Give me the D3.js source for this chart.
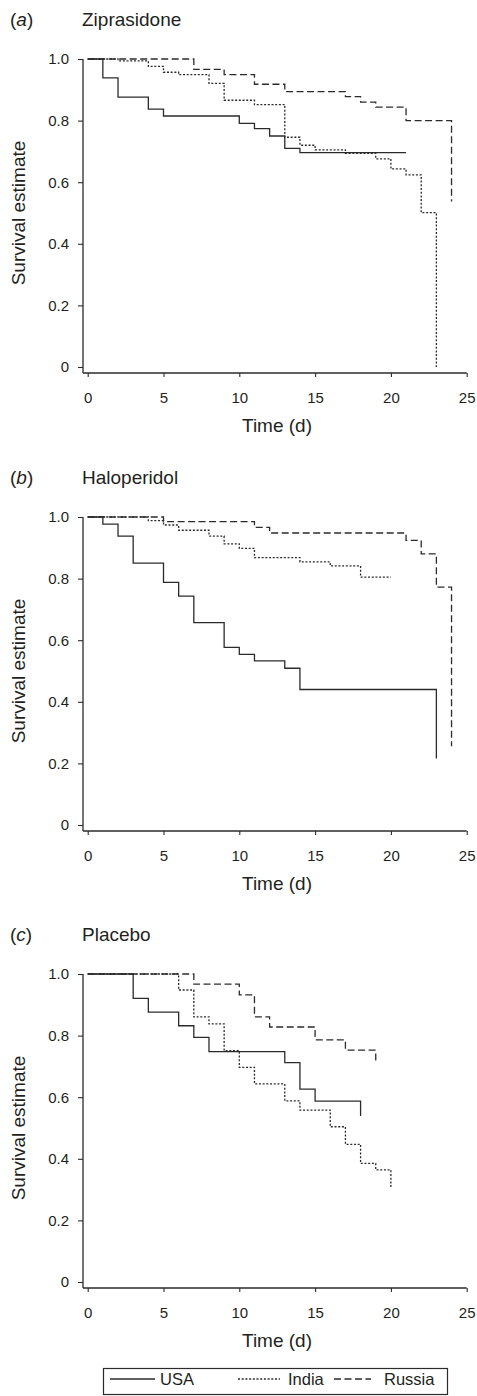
<!DOCTYPE html>
<html>
<head>
<meta charset="utf-8">
<script src="https://cdn.jsdelivr.net/npm/d3@7"></script>
<style>
  html, body { margin: 0; padding: 0; background: #fff; }
  svg { display: block; }
  text { font-family: "Liberation Sans", Arial, sans-serif; fill: #231f20; }
</style>
</head>
<body>
<svg id="chart" width="477" height="1396"></svg>
<script>
// ---- Data ----
const panelLetters = ["a", "b", "c"];
const panelTitles = ["Ziprasidone", "Haloperidol", "Placebo"];
const countries = ["USA", "India", "Russia"];
const xTicks = [0, 5, 10, 15, 20, 25];
const yTicks = [0, 0.2, 0.4, 0.6, 0.8, 1.0];
const yTickLabels = ["0", "0.2", "0.4", "0.6", "0.8", "1.0"];

// Panel (a) Ziprasidone
const usaA_t = [0, 1, 2, 4, 5, 10, 11, 12, 13, 14, 21];
const usaA_s = [1, 0.939, 0.876, 0.837, 0.815, 0.791, 0.774, 0.750, 0.710, 0.696, 0.696];
const indiaA_t = [0, 2, 4, 5, 6, 8, 9, 11, 13, 14, 15, 17, 19, 20, 21, 22, 23];
const indiaA_s = [1, 0.994, 0.976, 0.957, 0.949, 0.921, 0.866, 0.852, 0.746, 0.720, 0.705, 0.694, 0.676, 0.643, 0.624, 0.501, 0];
const russiaA_t = [0, 7, 9, 11, 13, 17, 18, 19, 21, 24];
const russiaA_s = [1, 0.966, 0.949, 0.918, 0.894, 0.878, 0.860, 0.844, 0.800, 0.537];

// Panel (b) Haloperidol
const usaB_t = [0, 1, 2, 3, 5, 6, 7, 9, 10, 11, 13, 14, 23];
const usaB_s = [1, 0.977, 0.938, 0.850, 0.788, 0.743, 0.657, 0.577, 0.554, 0.533, 0.509, 0.440, 0.216];
const indiaB_t = [0, 4, 5, 6, 8, 9, 10, 11, 14, 16, 18, 20];
const indiaB_s = [1, 0.988, 0.974, 0.957, 0.938, 0.913, 0.898, 0.868, 0.854, 0.841, 0.805, 0.805];
const russiaB_t = [0, 5, 11, 12, 21, 22, 23, 24];
const russiaB_s = [1, 0.985, 0.966, 0.948, 0.924, 0.880, 0.772, 0.256];

// Panel (c) Placebo
const usaC_t = [0, 3, 4, 6, 7, 8, 13, 14, 15, 18];
const usaC_s = [1, 0.921, 0.876, 0.832, 0.794, 0.748, 0.712, 0.626, 0.587, 0.539];
const indiaC_t = [0, 6, 7, 8, 9, 10, 11, 13, 14, 16, 17, 18, 19, 20];
const indiaC_s = [1, 0.948, 0.861, 0.838, 0.751, 0.697, 0.643, 0.588, 0.558, 0.504, 0.447, 0.385, 0.364, 0.307];
const russiaC_t = [0, 7, 10, 11, 12, 15, 17, 19];
const russiaC_s = [1, 0.967, 0.932, 0.861, 0.828, 0.786, 0.753, 0.708];

const panelData = [
  [[usaA_t, usaA_s], [indiaA_t, indiaA_s], [russiaA_t, russiaA_s]],
  [[usaB_t, usaB_s], [indiaB_t, indiaB_s], [russiaB_t, russiaB_s]],
  [[usaC_t, usaC_s], [indiaC_t, indiaC_s], [russiaC_t, russiaC_s]]
];

// ---- Styles / layout ----
const ink = "#2b2b2b";
const dashes = [null, "2,1.7", "7,3.5"];
const panelTops = [59, 517, 974];   // y pixel of survival = 1.0
const plotH = 308;
const axisX = 83;
const xRange = [87.7, 466.7];

const svg = d3.select("#chart");
const x = d3.scaleLinear().domain([0, 25]).range(xRange);

panelTops.forEach((top, pi) => {
  const y = d3.scaleLinear().domain([0, 1]).range([top + plotH, top]);
  const xAxisY = top + plotH + 6;
  const g = svg.append("g");

  // panel label + title
  const tl = g.append("text").attr("x", 10).attr("y", top - 33).attr("font-size", 19);
  tl.append("tspan").text("(");
  tl.append("tspan").attr("font-style", "italic").text(panelLetters[pi]);
  tl.append("tspan").text(")");
  g.append("text").attr("x", 82).attr("y", top - 33).attr("font-size", 19).text(panelTitles[pi]);

  // y axis
  const yAxis = d3.axisLeft(y).tickValues(yTicks)
    .tickFormat((d, i) => yTickLabels[i]).tickSize(5).tickPadding(9).tickSizeOuter(0);
  const ya = g.append("g").attr("transform", `translate(${axisX},0)`).call(yAxis);
  ya.select(".domain").remove();
  ya.append("line").attr("x1", 0).attr("x2", 0).attr("y1", top).attr("y2", xAxisY)
    .attr("stroke", ink).attr("stroke-width", 1.3);
  ya.selectAll(".tick line").attr("stroke", ink).attr("stroke-width", 1.1);
  ya.selectAll(".tick text").attr("font-size", 15).attr("fill", "#231f20")
    .attr("font-family", "Liberation Sans, Arial, sans-serif");

  // x axis
  const xAxis = d3.axisBottom(x).tickValues(xTicks).tickSize(4).tickPadding(15).tickSizeOuter(0);
  const xa = g.append("g").attr("transform", `translate(0,${xAxisY})`).call(xAxis);
  xa.select(".domain").remove();
  xa.append("line").attr("x1", axisX).attr("x2", xRange[1]).attr("y1", 0).attr("y2", 0)
    .attr("stroke", ink).attr("stroke-width", 1.3);
  xa.selectAll(".tick line").attr("stroke", ink).attr("stroke-width", 1.1);
  xa.selectAll(".tick text").attr("font-size", 15).attr("fill", "#231f20")
    .attr("font-family", "Liberation Sans, Arial, sans-serif");

  // axis titles
  g.append("text").attr("x", 277).attr("y", xAxisY + 59).attr("text-anchor", "middle")
    .attr("font-size", 19).text("Time (d)");
  g.append("text").attr("transform", `translate(25,${top + plotH / 2}) rotate(-90)`)
    .attr("text-anchor", "middle").attr("font-size", 19).text("Survival estimate");

  // curves
  const line = d3.line().x(d => x(d[0])).y(d => y(d[1])).curve(d3.curveStepAfter);
  panelData[pi].forEach((ser, si) => {
    const pts = ser[0].map((t, k) => [t, ser[1][k]]);
    g.append("path").datum(pts).attr("d", line)
      .attr("fill", "none").attr("stroke", ink).attr("stroke-width", 1.3)
      .attr("stroke-dasharray", dashes[si]);
  });
});

// ---- Legend ----
const lg = svg.append("g");
lg.append("rect").attr("x", 103.5).attr("y", 1368.5).attr("width", 344).attr("height", 26)
  .attr("fill", "none").attr("stroke", ink).attr("stroke-width", 1.2);
const legX = [110, 238, 334];
const legW = [45, 42, 37];
const legTextX = [160, 288, 384];
countries.forEach((c, i) => {
  lg.append("line").attr("x1", legX[i]).attr("x2", legX[i] + legW[i])
    .attr("y1", 1379).attr("y2", 1379)
    .attr("stroke", ink).attr("stroke-width", 1.3).attr("stroke-dasharray", dashes[i]);
  lg.append("text").attr("x", legTextX[i]).attr("y", 1385).attr("font-size", 16.5).text(c);
});
</script>
</body>
</html>
